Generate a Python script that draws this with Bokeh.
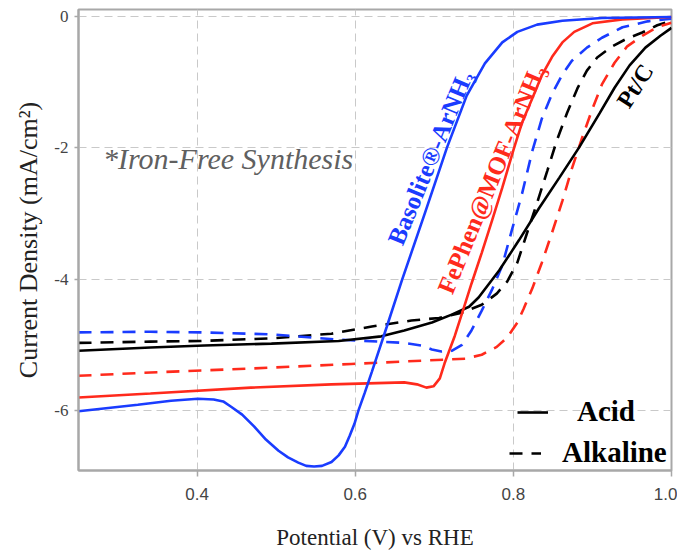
from bokeh.plotting import figure
from bokeh.models import Label, Legend, LegendItem, FixedTicker, Range1d, NumeralTickFormatter
from bokeh.embed import file_html
from bokeh.resources import INLINE

# ---------------- data (Potential V vs RHE, Current density mA/cm2) ----------------
basolite_acid_v = [0.25, 0.279, 0.325, 0.367, 0.401, 0.421, 0.433, 0.443, 0.457, 0.472, 0.487,
                   0.503, 0.515, 0.528, 0.538, 0.548, 0.558, 0.570, 0.579, 0.587, 0.593, 0.599,
                   0.604, 0.612, 0.621, 0.640, 0.659, 0.688, 0.716, 0.741, 0.764, 0.786, 0.805,
                   0.830, 0.862, 0.912, 1.0]
basolite_acid_j = [-6.01, -5.97, -5.91, -5.85, -5.82, -5.83, -5.86, -5.94, -6.06, -6.24, -6.44,
                   -6.61, -6.71, -6.79, -6.84, -6.85, -6.84, -6.78, -6.68, -6.55, -6.38, -6.20,
                   -6.00, -5.73, -5.41, -4.72, -4.02, -3.00, -2.00, -1.21, -0.72, -0.40, -0.24,
                   -0.13, -0.07, -0.03, -0.015]

fephen_acid_v = [0.25, 0.341, 0.468, 0.570, 0.662, 0.678, 0.690, 0.699, 0.707, 0.713, 0.726,
                 0.737, 0.747, 0.760, 0.773, 0.786, 0.801, 0.811, 0.824, 0.836, 0.849, 0.862,
                 0.877, 0.900, 0.938, 1.0]
fephen_acid_j = [-5.80, -5.74, -5.65, -5.60, -5.57, -5.60, -5.65, -5.63, -5.51, -5.28, -4.86,
                 -4.45, -4.07, -3.60, -3.11, -2.61, -2.00, -1.62, -1.25, -0.90, -0.62, -0.40,
                 -0.24, -0.11, -0.05, -0.015]

fephen_alk_v = [0.25, 0.341, 0.468, 0.595, 0.684, 0.739, 0.760, 0.779, 0.792, 0.805, 0.813,
                0.824, 0.836, 0.849, 0.862, 0.874, 0.887, 0.900, 0.912, 0.928, 0.944, 0.963,
                0.982, 1.0]
fephen_alk_j = [-5.47, -5.42, -5.36, -5.29, -5.24, -5.21, -5.15, -5.03, -4.89, -4.66, -4.45,
                -4.14, -3.75, -3.29, -2.81, -2.32, -1.85, -1.41, -1.04, -0.71, -0.46, -0.30,
                -0.17, -0.10]

basolite_alk_v = [0.25, 0.341, 0.405, 0.494, 0.579, 0.662, 0.684, 0.697, 0.709, 0.722, 0.735,
                  0.747, 0.760, 0.773, 0.786, 0.798, 0.811, 0.824, 0.836, 0.849, 0.862, 0.874,
                  0.893, 0.912, 0.938, 0.970, 1.0]
basolite_alk_j = [-4.81, -4.80, -4.81, -4.84, -4.92, -4.97, -5.01, -5.07, -5.10, -5.09, -5.00,
                  -4.78, -4.48, -4.16, -3.79, -3.26, -2.70, -2.05, -1.56, -1.18, -0.89, -0.68,
                  -0.48, -0.33, -0.17, -0.08, -0.04]

ptc_alk_v = [0.25, 0.341, 0.405, 0.494, 0.570, 0.621, 0.671, 0.706, 0.735, 0.760, 0.779, 0.792,
             0.805, 0.817, 0.830, 0.843, 0.855, 0.868, 0.881, 0.893, 0.906, 0.925, 0.944, 0.963,
             0.982, 1.0]
ptc_alk_j = [-4.97, -4.95, -4.94, -4.90, -4.83, -4.72, -4.63, -4.59, -4.51, -4.39, -4.22, -4.04,
             -3.75, -3.31, -2.84, -2.35, -1.89, -1.47, -1.10, -0.83, -0.63, -0.46, -0.34, -0.25,
             -0.14, -0.07]

ptc_acid_v = [0.25, 0.341, 0.409, 0.494, 0.579, 0.633, 0.662, 0.697, 0.722, 0.744, 0.756, 0.782,
              0.807, 0.832, 0.858, 0.883, 0.909, 0.928, 0.947, 0.967, 0.986, 1.0]
ptc_acid_j = [-5.09, -5.04, -5.01, -4.98, -4.94, -4.87, -4.78, -4.66, -4.54, -4.42, -4.28, -3.87,
              -3.41, -2.93, -2.46, -2.00, -1.48, -1.09, -0.75, -0.48, -0.30, -0.18]

x_ticks = [0.4, 0.6, 0.8, 1.0]
y_ticks = [0, -2, -4, -6]

BLUE = "#1a3cff"
RED = "#ff2a1c"
BLACK = "#000000"
SERIF = "Liberation Serif"

p = figure(width=677, height=553, output_backend="svg", toolbar_location=None,
           x_range=Range1d(0.25, 1.0), y_range=Range1d(-6.91, 0.1),
           min_border_left=78, min_border_right=6, min_border_top=9, min_border_bottom=83,
           background_fill_color="white", border_fill_color="white")

p.outline_line_color = "#a8a8a8"
p.outline_line_width = 2

for ax in (p.xaxis[0], p.yaxis[0]):
    ax.axis_line_color = "#a8a8a8"
    ax.axis_line_width = 2
    ax.major_tick_line_color = "#a8a8a8"
    ax.major_tick_line_width = 1.5
    ax.major_tick_in = 0
    ax.minor_tick_line_color = None
    ax.major_label_text_color = "#444444"
    ax.axis_label_text_color = "#222222"
    ax.axis_label_text_font = SERIF
    ax.axis_label_text_font_style = "normal"

p.xaxis.ticker = FixedTicker(ticks=x_ticks)
p.yaxis.ticker = FixedTicker(ticks=y_ticks)
p.xaxis.formatter = NumeralTickFormatter(format="0.0")
p.yaxis.formatter = NumeralTickFormatter(format="0")
p.xaxis.major_tick_out = 6
p.yaxis.major_tick_out = 4
p.xaxis.major_label_standoff = 11
p.yaxis.major_label_standoff = 6
p.xaxis.major_label_text_font = "Liberation Sans"
p.xaxis.major_label_text_font_size = "17px"
p.yaxis.major_label_text_font = SERIF
p.yaxis.major_label_text_font_size = "17px"
p.xaxis.axis_label = "Potential (V) vs RHE"
p.yaxis.axis_label = "Current Density (mA/cm\u00b2)"
p.xaxis.axis_label_text_font_size = "23px"
p.yaxis.axis_label_text_font_size = "26px"
p.xaxis.axis_label_standoff = 22
p.yaxis.axis_label_standoff = 8

for g in (p.xgrid[0], p.ygrid[0]):
    g.grid_line_color = "#c9c9c9"
    g.grid_line_dash = "8 5"
    g.grid_line_width = 1

LW = 2.6
DASH = "13 9"
r_ptc_alk = p.line(ptc_alk_v, ptc_alk_j, line_color=BLACK, line_width=LW, line_dash=DASH)
p.line(basolite_alk_v, basolite_alk_j, line_color=BLUE, line_width=LW, line_dash=DASH)
p.line(fephen_alk_v, fephen_alk_j, line_color=RED, line_width=LW, line_dash=DASH)
r_ptc_acid = p.line(ptc_acid_v, ptc_acid_j, line_color=BLACK, line_width=LW)
p.line(fephen_acid_v, fephen_acid_j, line_color=RED, line_width=LW)
p.line(basolite_acid_v, basolite_acid_j, line_color=BLUE, line_width=LW)

# legend (two legends so each row can be placed as in the original)
common = dict(padding=0, margin=0, border_line_color=None, background_fill_alpha=0,
              glyph_height=20, label_text_font=SERIF, label_text_font_style="bold",
              label_text_font_size="29px", label_text_color=BLACK, spacing=0)
leg1 = Legend(items=[LegendItem(label="Acid", renderers=[r_ptc_acid])], location=(439, 42),
              glyph_width=31, label_standoff=29, **common)
leg2 = Legend(items=[LegendItem(label="Alkaline", renderers=[r_ptc_alk])], location=(431, 1),
              glyph_width=32, label_standoff=21, **common)
p.add_layout(leg1)
p.add_layout(leg2)

# annotations
p.add_layout(Label(x=0.281, y=-2.17, text="*Iron-Free Synthesis", text_font=SERIF,
                   text_font_style="italic", text_font_size="30px", text_color="#606060",
                   text_align="left", text_baseline="alphabetic"))
p.add_layout(Label(x=0.650, y=-3.46, text="Basolite\u00ae-ArNH\u2083", angle=1.18,
                   text_font=SERIF, text_font_style="bold", text_font_size="25px",
                   text_color=BLUE, text_align="left", text_baseline="alphabetic"))
p.add_layout(Label(x=0.713, y=-4.20, text="FePhen@MOF-ArNH\u2083", angle=1.18,
                   text_font=SERIF, text_font_style="bold", text_font_size="25px",
                   text_color=RED, text_align="left", text_baseline="alphabetic"))
p.add_layout(Label(x=0.938, y=-1.36, text="Pt/C", angle=1.0,
                   text_font=SERIF, text_font_style="bold", text_font_size="24px",
                   text_color=BLACK, text_align="left", text_baseline="alphabetic"))

open("out.html", "w").write(file_html(p, INLINE))
